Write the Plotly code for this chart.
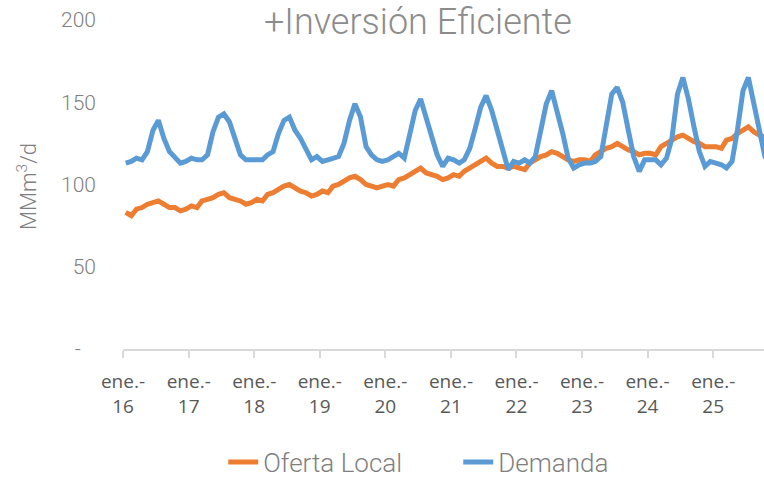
import pandas as pd
import plotly.graph_objects as go

# monthly values, Jan 2016 - Nov 2025 (MMm3/d)
oferta_local = [
    83, 81, 85, 86, 88, 89, 90, 88, 86, 86, 84, 85,
    87, 86, 90, 91, 92, 94, 95, 92, 91, 90, 88, 89,
    91, 90, 94, 95, 97, 99, 100, 98, 96, 95, 93, 94,
    96, 95, 99, 100, 102, 104, 105, 103, 100, 99, 98, 99,
    100, 99, 103, 104, 106, 108, 110, 107, 106, 105, 103, 104,
    106, 105, 108, 110, 112, 114, 116, 113, 111, 111, 110, 111,
    110, 109, 113, 115, 117, 118, 120, 119, 117, 115, 114, 115,
    115, 114, 118, 120, 122, 123, 125, 123, 121, 120, 118, 119,
    119, 118, 123, 125, 127, 129, 130, 128, 126, 125, 123, 123,
    123, 122, 127, 128, 131, 133, 135, 132, 130, 129, 127,
]
demanda = [
    113, 114, 116, 115, 120, 133, 139, 128, 120, 117, 113, 114,
    116, 115, 115, 118, 132, 141, 143, 138, 127, 118, 115, 115,
    115, 115, 118, 120, 131, 139, 141, 133, 128, 121, 115, 117,
    114, 115, 116, 117, 125, 139, 149, 141, 123, 118, 115, 114,
    115, 117, 119, 116, 130, 145, 152, 140, 128, 118, 111, 116,
    115, 113, 115, 122, 134, 147, 154, 145, 133, 122, 109, 114,
    113, 115, 113, 117, 132, 149, 157, 145, 131, 116, 110, 112,
    113, 113, 114, 117, 137, 155, 159, 150, 133, 117, 108, 115,
    115, 115, 112, 116, 128, 155, 165, 152, 135, 120, 111, 114,
    113, 112, 110, 114, 133, 157, 165, 148, 131, 117, 112,
]
years = ["16", "17", "18", "19", "20", "21", "22", "23", "24", "25"]
y_ticks = [0, 50, 100, 150, 200]
y_labels = ["-\u00a0\u00a0\u00a0", "50", "100", "150", "200"]

# points sit in the middle of each month
fechas = pd.date_range("2016-01-01", periods=len(demanda), freq="MS") + pd.Timedelta(days=15)
tick_dates = [f"20{a}-01-01" for a in years]
tick_text = [f"ene.-<br>{a}" for a in years]

fig = go.Figure()
fig.add_trace(go.Scatter(x=fechas, y=oferta_local, mode="lines", name="Oferta Local",
                         line=dict(color="#ED7D31", width=5)))
fig.add_trace(go.Scatter(x=fechas, y=demanda, mode="lines", name="Demanda",
                         line=dict(color="#5B9BD5", width=5)))

fig.update_layout(
    width=764, height=477,
    margin=dict(l=123, r=0, t=20, b=128),
    paper_bgcolor="white", plot_bgcolor="white",
    font=dict(family="Roboto", color="#7f7f7f"),
    title=dict(text="+Inversión Eficiente", x=0.547, xanchor="center",
               y=0.956, yanchor="middle",
               font=dict(family="Roboto", size=36, color="#8c8c8c", weight=300)),
    showlegend=True,
    legend=dict(orientation="h", x=0.523, xanchor="center",
                yref="container", y=0.031, yanchor="middle",
                font=dict(family="Roboto", size=26, color="#7f7f7f", weight=300),
                entrywidth=190, entrywidthmode="pixels", tracegroupgap=0),
)
fig.update_xaxes(
    range=["2016-01-01", "2025-10-11"],
    tickmode="array", tickvals=tick_dates, ticktext=tick_text,
    showgrid=False, showline=True, linecolor="#d9d9d9", linewidth=2,
    ticks="outside", ticklen=7, tickcolor="#d9d9d9", tickwidth=2,
    ticklabelstandoff=7,
    tickfont=dict(family="Open Sans", size=19, color="#595959"),
    zeroline=False,
)
fig.update_yaxes(
    range=[0, 200], tickmode="array", tickvals=y_ticks, ticktext=y_labels,
    showgrid=False, showline=False, zeroline=False, ticks="",
    ticklabelstandoff=26,
    tickfont=dict(family="Roboto", size=21, color="#7f7f7f", weight=300),
)
fig.add_annotation(text="MMm<sup>3</sup>/d", xref="paper", yref="paper",
                   x=-0.15, y=0.495, xanchor="center", yanchor="middle",
                   textangle=-90, showarrow=False,
                   font=dict(family="Roboto", size=22, color="#7f7f7f", weight=300))

# page body has a default 8px margin; drop it so the figure sits at 0,0
fig.write_html("out.html", config={"displayModeBar": False},
               post_script="document.body.style.margin='0';")
